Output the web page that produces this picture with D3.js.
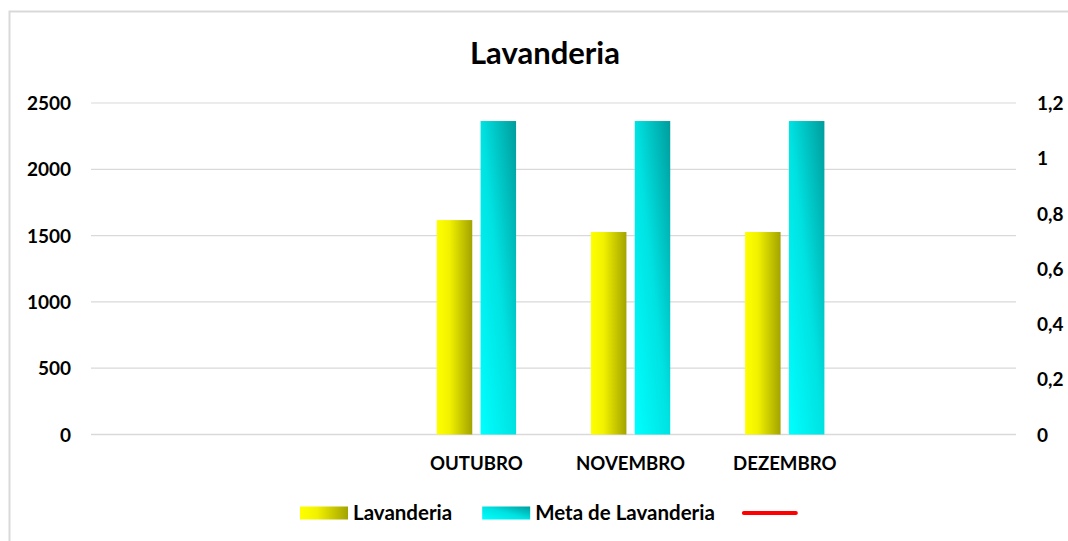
<!DOCTYPE html>
<html>
<head>
<meta charset="utf-8">
<script src="https://cdn.jsdelivr.net/npm/d3@7"></script>
<style>
  html, body { margin: 0; padding: 0; background: #fff; }
  svg { display: block; font-family: Lato, "Open Sans", sans-serif; font-weight: bold; }
</style>
</head>
<body>
<svg id="chart" width="1068" height="541"></svg>
<script>
const title = "Lavanderia";
const categories = ["", "", "OUTUBRO", "NOVEMBRO", "DEZEMBRO", ""];
const lavanderia = [null, null, 1617, 1527, 1527, null];
const metaLavanderia = [null, null, 2364, 2364, 2364, null];
const linhaSecundaria = [null, null, null, null, null, null];
const leftTicks = [0, 500, 1000, 1500, 2000, 2500];
const rightTicks = [0, 0.2, 0.4, 0.6, 0.8, 1, 1.2];
const seriesNames = ["Lavanderia", "Meta de Lavanderia", ""];

const svg = d3.select("#chart");
const W = 1068, H = 541;
const plot = { left: 91, right: 1016, top: 103, bottom: 434.5 };

// gradients
const defs = svg.append("defs");
const gY = defs.append("linearGradient").attr("id", "gradYellow")
  .attr("x1", 0).attr("y1", 0).attr("x2", 1).attr("y2", 0);
gY.append("stop").attr("offset", 0).attr("stop-color", "#FFFF00");
gY.append("stop").attr("offset", 0.35).attr("stop-color", "#F2F200");
gY.append("stop").attr("offset", 1).attr("stop-color", "#A3A300");
const gC = defs.append("linearGradient").attr("id", "gradCyan")
  .attr("x1", 0).attr("y1", 1).attr("x2", 1).attr("y2", 0);
gC.append("stop").attr("offset", 0).attr("stop-color", "#00FFFF");
gC.append("stop").attr("offset", 0.5).attr("stop-color", "#00E2E2");
gC.append("stop").attr("offset", 1).attr("stop-color", "#009C9C");

// outer border
svg.append("rect").attr("x", 9.5).attr("y", 11.5).attr("width", W + 20).attr("height", H + 20)
  .attr("fill", "none").attr("stroke", "#D9D9D9").attr("stroke-width", 2);

// title
svg.append("text").attr("x", 545).attr("y", 64).attr("text-anchor", "middle")
  .attr("font-size", 31).attr("fill", "#000").text(title);

const x = d3.scaleBand().domain(d3.range(categories.length)).range([plot.left, plot.right]).padding(0);
const y = d3.scaleLinear().domain([0, 2500]).range([plot.bottom, plot.top]);
const y2 = d3.scaleLinear().domain([0, 1.2]).range([plot.bottom, plot.top]);

// gridlines
svg.append("g").selectAll("line").data(leftTicks).join("line")
  .attr("x1", plot.left).attr("x2", plot.right)
  .attr("y1", d => y(d)).attr("y2", d => y(d))
  .attr("stroke", "#D9D9D9").attr("stroke-width", d => d === 0 ? 1.6 : 1.2);

// left axis
const yAxis = svg.append("g").attr("transform", `translate(${plot.left},0)`)
  .call(d3.axisLeft(y).tickValues(leftTicks).tickSize(0).tickPadding(20).tickFormat(d3.format("d")));
yAxis.select(".domain").remove();
yAxis.selectAll("text").attr("font-size", 19).attr("fill", "#000")
  .attr("font-family", "Lato, sans-serif").attr("font-weight", "bold").attr("dy", "0.35em");

// right axis
const fmtComma = d => String(d).replace(".", ",");
const y2Axis = svg.append("g").attr("transform", `translate(${plot.right},0)`)
  .call(d3.axisRight(y2).tickValues(rightTicks).tickSize(0).tickPadding(21).tickFormat(fmtComma));
y2Axis.select(".domain").remove();
y2Axis.selectAll("text").attr("font-size", 19).attr("fill", "#000")
  .attr("font-family", "Lato, sans-serif").attr("font-weight", "bold").attr("dy", "0.35em");

// x axis labels
const xAxis = svg.append("g").attr("transform", `translate(0,${plot.bottom})`)
  .call(d3.axisBottom(x).tickSize(0).tickPadding(22).tickFormat(i => categories[i]));
xAxis.select(".domain").remove();
xAxis.selectAll("text").attr("font-size", 18.6).attr("fill", "#000")
  .attr("font-family", "Lato, sans-serif").attr("font-weight", "bold");

// bars
const band = x.bandwidth();
const bw = band * 0.2302;
const gap = band * 0.054;
const offset = (band - (2 * bw + gap)) / 2;
const seriesList = [
  { values: lavanderia, fill: "url(#gradYellow)", idx: 0 },
  { values: metaLavanderia, fill: "url(#gradCyan)", idx: 1 }
];
seriesList.forEach(s => {
  svg.append("g").selectAll("rect")
    .data(s.values.map((v, i) => ({ v, i })).filter(d => d.v != null))
    .join("rect")
    .attr("x", d => x(d.i) + offset + s.idx * (bw + gap))
    .attr("width", bw)
    .attr("y", d => y(d.v))
    .attr("height", d => y(0) - y(d.v))
    .attr("fill", s.fill);
});

// secondary line series (no visible values)
const line = d3.line().defined(d => d.v != null)
  .x(d => x(d.i) + band / 2).y(d => y2(d.v));
svg.append("path").datum(linhaSecundaria.map((v, i) => ({ v, i })))
  .attr("d", line).attr("fill", "none").attr("stroke", "#FF0000").attr("stroke-width", 4);

// legend
const leg = svg.append("g");
let lx = 300;
const ly = 513;
const items = [
  { name: seriesNames[0], type: "rect", fill: "url(#gradYellow)" },
  { name: seriesNames[1], type: "rect", fill: "url(#gradCyan)" },
  { name: seriesNames[2], type: "line", stroke: "#FF0000" }
];
items.forEach(it => {
  if (it.type === "rect") {
    leg.append("rect").attr("x", lx).attr("y", ly - 6.5).attr("width", 48).attr("height", 13).attr("fill", it.fill);
    lx += 53;
    const t = leg.append("text").attr("x", lx).attr("y", ly).attr("dy", "0.35em")
      .attr("font-size", 20.5).attr("fill", "#000").text(it.name);
    lx += t.node().getComputedTextLength() + 30;
  } else {
    leg.append("line").attr("x1", lx - 1).attr("x2", lx + 51).attr("y1", ly).attr("y2", ly)
      .attr("stroke", it.stroke).attr("stroke-width", 4).attr("stroke-linecap", "round");
  }
});
</script>
</body>
</html>
